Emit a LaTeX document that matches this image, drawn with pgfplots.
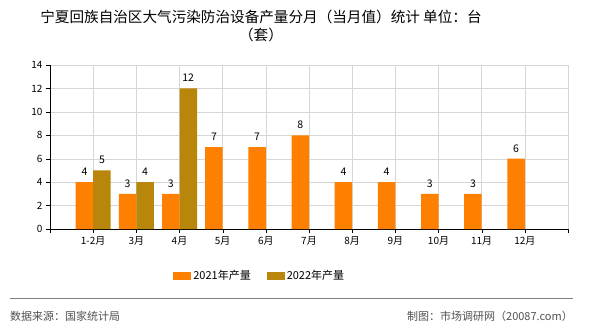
\documentclass[border=0pt]{standalone}
\usepackage{fontspec}
\setmainfont{Noto Sans CJK SC}
\usepackage{pgfplots}
\pgfplotsset{compat=1.18}
\definecolor{c21}{RGB}{255,128,0}
\definecolor{c22}{RGB}{184,134,11}
\definecolor{gridc}{RGB}{214,214,214}
\definecolor{foot}{RGB}{80,80,80}
\begin{document}
\begin{tikzpicture}[x=1pt,y=1pt]
\useasboundingbox (-50,-101) rectangle (540,229);
\begin{axis}[at={(0,0)}, anchor=south west, scale only axis,
  width=518pt, height=164pt,
  xmin=0, xmax=12, ymin=0, ymax=14,
  ybar, bar width=17.5pt,
  axis lines=left, axis line style={-, black},
  xtick={0,...,12},
  xticklabels={,1-2月,3月,4月,5月,6月,7月,8月,9月,10月,11月,12月,},
  ytick={0,2,...,14},
  grid=major, grid style={gridc},
  tick align=outside, major tick length=4pt, tick style={black},
  tick label style={font=\fontsize{10}{12}\selectfont},
  /pgf/number format/assume math mode=true,
  nodes near coords,
  nodes near coords style={font=\fontsize{10.5}{12}\selectfont, black, yshift=3pt},
  legend style={at={(0.405,-0.287)}, anchor=center, draw=none, fill=none,
    legend columns=2, font=\fontsize{11}{13}\selectfont,
    /tikz/every even column/.append style={column sep=14pt}},
  legend image code/.code={\fill[#1] (0pt,-4pt) rectangle (18pt,4pt);},
]
\addplot[fill=c21, draw=none, bar shift=-8.75pt] coordinates {(1,4)(2,3)(3,3)(4,7)(5,7)(6,8)(7,4)(8,4)(9,3)(10,3)(11,6)};
\addplot[fill=c22, draw=none, bar shift=8.75pt] coordinates {(1,5)(2,4)(3,12)};
\legend{2021年产量,2022年产量}
\end{axis}
\node[align=center, font=\fontsize{14.6}{18}\selectfont] at (211,203) {宁夏回族自治区大气污染防治设备产量分月（当月值）统计 单位：台\\（套）};
\draw[gray, line width=0.8pt] (-40,-69) -- (523,-69);
\node[anchor=west, font=\fontsize{11}{13}\selectfont, text=foot, inner sep=0pt] at (-40,-87) {数据来源：国家统计局};
\node[anchor=east, font=\fontsize{11}{13}\selectfont, text=foot, inner sep=0pt] at (523,-87) {制图：市场调研网（20087.com）};
\end{tikzpicture}
\end{document}
